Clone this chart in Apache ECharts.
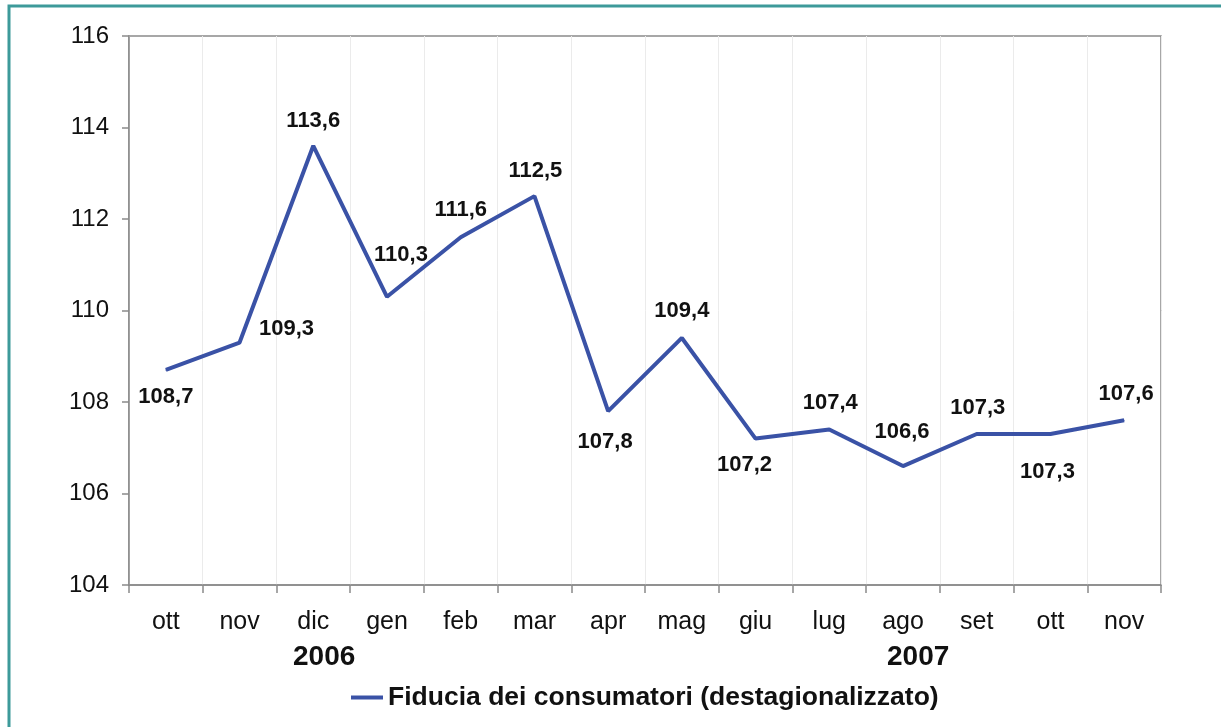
<!DOCTYPE html>
<html>
<head>
<meta charset="utf-8">
<script src="https://cdn.jsdelivr.net/npm/echarts@6/dist/echarts.min.js"></script>
<style>
html,body{margin:0;padding:0;background:#fff;}
#chart{width:1221px;height:727px;}
</style>
</head>
<body>
<div id="chart"></div>
<script>
// mesi (ott 2006 - nov 2007)
var months = ['ott','nov','dic','gen','feb','mar','apr','mag','giu','lug','ago','set','ott','nov'];
// fiducia dei consumatori, destagionalizzato
var fiducia = [108.7, 109.3, 113.6, 110.3, 111.6, 112.5, 107.8, 109.4, 107.2, 107.4, 106.6, 107.3, 107.3, 107.6];
var yTicks = {min: 104, max: 116, step: 2};
var years = ['2006', '2007'];

// spostamento delle etichette rispetto al punto
var labelOffsets = [[0,27],[47,-14],[0,-25],[14,-42],[0,-27],[1,-25],[-3,31],[0,-27],[-11,26],[1,-27],[-1,-34],[1,-26],[-3,38],[2,-26]];

var lineColor = '#3a52a6';
var axisColor = '#8a8a8a';

var chart = echarts.init(document.getElementById('chart'));

var points = fiducia.map(function(v, i){
    return {
        value: v,
        label: {offset: labelOffsets[i]}
    };
});

var option = {
    backgroundColor: '#fff',
    animation: false,
    grid: {
        left: 129, right: 60, top: 36, bottom: 142,
        show: true, borderColor: axisColor, borderWidth: 1.5
    },
    legend: {
        left: 346, top: 679,
        itemWidth: 32, itemHeight: 4, itemGap: 10,
        icon: 'rect',
        textStyle: {fontFamily: 'Liberation Sans', fontSize: 26.5, fontWeight: 'bold', color: '#111'},
        data: ['Fiducia dei consumatori (destagionalizzato)']
    },
    xAxis: {
        type: 'category',
        data: months,
        boundaryGap: true,
        axisLine: {lineStyle: {color: axisColor, width: 1.5}},
        axisTick: {show: true, length: 8, lineStyle: {color: axisColor, width: 1.5}},
        axisLabel: {margin: 25, fontFamily: 'Liberation Sans', fontSize: 25, color: '#111', interval: 0},
        splitLine: {show: true, lineStyle: {color: '#ebebeb', width: 1}}
    },
    yAxis: {
        type: 'value',
        min: yTicks.min, max: yTicks.max, interval: yTicks.step,
        axisLine: {show: true, lineStyle: {color: axisColor, width: 1.5}},
        axisTick: {show: true, length: 7, lineStyle: {color: axisColor, width: 1.5}},
        axisLabel: {margin: 20, fontFamily: 'Liberation Sans', fontSize: 24, color: '#111'},
        splitLine: {show: false}
    },
    series: [{
        name: 'Fiducia dei consumatori (destagionalizzato)',
        type: 'line',
        data: points,
        symbol: 'circle',
        symbolSize: 1,
        showSymbol: true,
        itemStyle: {color: lineColor},
        lineStyle: {color: lineColor, width: 4},
        label: {
            show: true,
            position: 'inside',
            fontFamily: 'Liberation Sans',
            fontSize: 22,
            fontWeight: 'bold',
            color: '#111',
            formatter: function(p){ return p.value.toFixed(1).replace('.', ','); }
        }
    }],
    graphic: [
        {type: 'rect', shape: {x: 9, y: 6, width: 1250, height: 760},
         style: {fill: 'none', stroke: '#3d9a9a', lineWidth: 3}, silent: true},
        {type: 'text', left: 293, top: 643,
         style: {text: years[0], fontFamily: 'Liberation Sans', fontSize: 28, fontWeight: 'bold', fill: '#111'}},
        {type: 'text', left: 887, top: 643,
         style: {text: years[1], fontFamily: 'Liberation Sans', fontSize: 28, fontWeight: 'bold', fill: '#111'}}
    ]
};

chart.setOption(option);
</script>
</body>
</html>
